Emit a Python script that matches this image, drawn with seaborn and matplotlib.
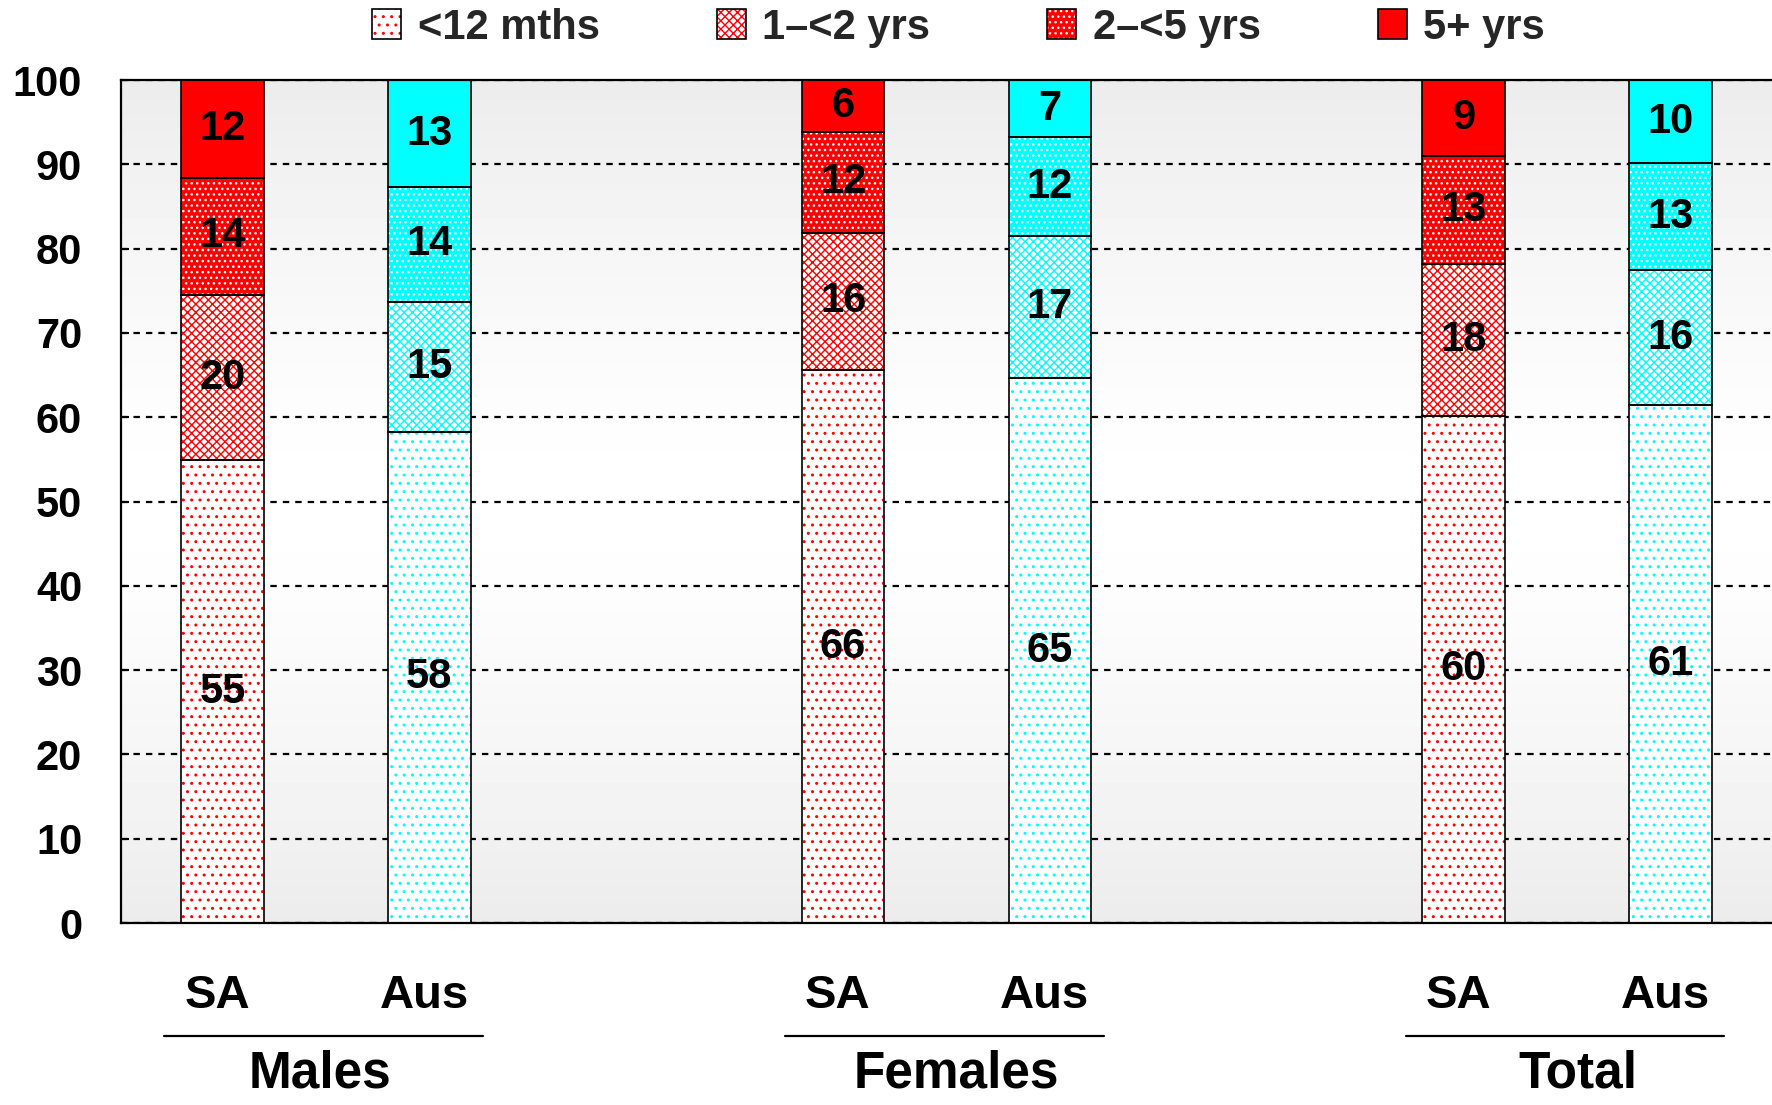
import matplotlib
matplotlib.use("Agg")
import matplotlib.patches as mpatches
import matplotlib.pyplot as plt
import matplotlib.transforms as mtransforms
import numpy as np
import pandas as pd
import seaborn as sns

# bar order: Males SA, Males Aus, Females SA, Females Aus, Total SA, Total Aus
groups = ["Males", "Females", "Total"]
regions = ["SA", "Aus"]
periods = ["<12 mths", "1\u2013<2 yrs", "2\u2013<5 yrs", "5+ yrs"]
lt_12_mths = [54.9, 58.3, 65.6, 64.6, 60.2, 61.4]
yrs_1_2 = [19.6, 15.4, 16.3, 16.9, 18.0, 16.1]
yrs_2_5 = [13.9, 13.6, 11.9, 11.7, 12.8, 12.6]
yrs_5_plus = [11.6, 12.7, 6.2, 6.8, 9.0, 9.9]

region_colours = {"SA": "#ff0000", "Aus": "#00ffff"}
# (light background with coloured hatch?, hatch pattern) per period
period_styles = [(True, ".."), (True, "xxxx"), (False, "..."), (False, None)]
group_label_shift = [-0.03, 0.05, 0.05]

sns.set_theme(style="white")
plt.rcParams["font.family"] = ["Liberation Sans", "DejaVu Sans"]
plt.rcParams["font.weight"] = "bold"
plt.rcParams["hatch.linewidth"] = 1.0

df = pd.DataFrame({"group": np.repeat(groups, len(regions)), "region": regions * len(groups)})
df["pos"] = [3 * groups.index(g) + regions.index(r) for g, r in zip(df["group"], df["region"])]
for name, vals in zip(periods, [lt_12_mths, yrs_1_2, yrs_2_5, yrs_5_plus]):
    df[name] = vals
colours = list(df["region"].map(region_colours))
n = len(df)

fig = plt.figure(figsize=(17.72, 11.05), dpi=100)
ax = fig.add_axes([0.0683, 0.1647, 0.9317, 0.7629])
xlim = (-0.49, 7.49)

# soft grey-white-grey background
shade = 1 - 0.075 * np.abs(np.linspace(-1, 1, 256)) ** 1.4
ax.imshow(shade[:, None], cmap="gray", vmin=0, vmax=1, extent=(*xlim, 0, 100),
          aspect="auto", zorder=0, interpolation="bilinear")

bottom = np.zeros(n)
for period, (light, hatch) in zip(periods, period_styles):
    face = ["white"] * n if light else colours
    hatch_col = colours if light else ["white"] * n
    extra = {"hatch": hatch} if hatch else {}
    sns.barplot(data=df, x="pos", y=period, native_scale=True, width=0.4, errorbar=None,
                color="gray", saturation=1, bottom=bottom, facecolor=face,
                edgecolor=hatch_col, linewidth=0, zorder=2, ax=ax, **extra)
    sns.barplot(data=df, x="pos", y=period, native_scale=True, width=0.4, errorbar=None,
                color="black", saturation=1, bottom=bottom, fill=False,
                edgecolor="black", linewidth=1.2, zorder=3, ax=ax)
    for x, b, v in zip(df["pos"], bottom, df[period]):
        ax.text(x, b + v / 2, f"{v:.0f}", ha="center", va="center",
                fontsize=30, fontweight="bold", color="black", zorder=4)
    bottom = bottom + df[period].to_numpy()

ax.set_xlim(*xlim)
ax.set_ylim(0, 100)
ax.set_yticks(range(0, 101, 10))
ax.set_xticks([])
ax.set_xlabel("")
ax.set_ylabel("")
ax.tick_params(axis="y", direction="in", left=True, length=6, width=1.5,
               color="black", labelsize=30, pad=28, labelcolor="black")
for lbl in ax.get_yticklabels():
    lbl.set_fontweight("bold")
ax.yaxis.grid(True, color="black", linestyle=(0, (2.9, 2.7)), linewidth=1.6)
ax.set_axisbelow(True)
for side in ["left", "bottom", "top"]:
    ax.spines[side].set_color("black")
    ax.spines[side].set_linewidth(1.6)
ax.spines["right"].set_visible(False)

# two-level category labels below the axis
trans = mtransforms.blended_transform_factory(ax.transData, ax.transAxes)
for gi, g in enumerate(groups):
    for ri, r in enumerate(regions):
        ax.text(3 * gi + ri - 0.025, -0.086, r, transform=trans, ha="center", va="center",
                fontsize=34, fontweight="bold", color="black", clip_on=False)
    ax.plot([3 * gi - 0.28, 3 * gi + 1.26], [-0.134, -0.134], transform=trans,
            color="black", lw=1.6, clip_on=False)
    ax.text(3 * gi + 0.5 + group_label_shift[gi], -0.179, g, transform=trans,
            ha="center", va="center", fontsize=37, fontweight="bold", color="black",
            clip_on=False)

handles = []
for light, hatch in period_styles:
    p1 = mpatches.Patch(facecolor="white" if light else "#ff0000",
                        edgecolor="#ff0000" if light else "white",
                        hatch=hatch, linewidth=0)
    p2 = mpatches.Patch(facecolor="none", edgecolor="black", linewidth=1.2)
    handles.append((p1, p2))
fig.legend(handles, periods, loc="center", bbox_to_anchor=(0.541, 0.975), ncol=4,
           frameon=False, prop={"size": 30, "weight": "bold"}, handlelength=0.7,
           handleheight=0.7, handletextpad=0.4, columnspacing=2.8)

fig.savefig("out.png", dpi=100)
